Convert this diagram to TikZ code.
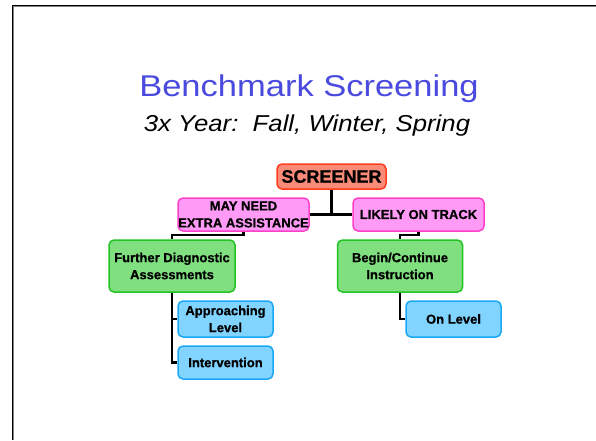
\documentclass[tikz,border=0pt]{standalone}
\usepackage{fontspec}
\setmainfont{Liberation Sans}
\newfontfamily\titlefont[FakeStretch=1.15]{Liberation Sans}
\newfontfamily\subtitlefont[FakeStretch=1.12]{Liberation Sans}
\newfontfamily\boxfont[FakeBold=0.8]{Liberation Sans Bold}
\usetikzlibrary{positioning}

\definecolor{titleblue}{RGB}{74,74,222}
\definecolor{scrfill}{RGB}{249,139,120}
\definecolor{scrdraw}{RGB}{255,60,30}
\definecolor{pinkfill}{RGB}{255,155,247}
\definecolor{pinkdraw}{RGB}{255,64,200}
\definecolor{greenfill}{RGB}{128,224,128}
\definecolor{greendraw}{RGB}{34,195,34}
\definecolor{bluefill}{RGB}{128,212,255}
\definecolor{bluedraw}{RGB}{26,168,245}

\tikzset{
  box/.style={rounded corners=5pt, line width=1.5pt, align=center,
    font=\boxfont\fontsize{13}{17}\selectfont, inner sep=0pt},
  scrbox/.style={box, fill=scrfill, draw=scrdraw,
    font=\boxfont\fontsize{18}{20}\selectfont},
  pinkbox/.style={box, fill=pinkfill, draw=pinkdraw},
  greenbox/.style={box, fill=greenfill, draw=greendraw},
  bluebox/.style={box, fill=bluefill, draw=bluedraw},
  link/.style={line width=2.5pt, black}
}

\begin{document}
\begin{tikzpicture}[x=1pt, y=-1pt]
  % page area
  \useasboundingbox (0,0) rectangle (596,440);
  \fill[white] (0,0) rectangle (596,440);
  % slide frame (top and left edges)
  \draw[gray, line width=1pt] (13,6.5) -- (596,6.5);
  \draw[gray, line width=1pt] (13.5,6) -- (13.5,440);
  \draw[black, line width=1pt] (12,5) -- (596,5);
  \draw[black, line width=1pt] (12,5) -- (12,440);

  % headings
  \node[anchor=base, text=titleblue, font=\titlefont\fontsize{30}{30}\selectfont]
    (title) at (309,96) {Benchmark Screening};
  \node[anchor=base, font=\subtitlefont\itshape\fontsize{23}{23}\selectfont]
    (subtitle) at (307,131) {3x Year:\ \ Fall, Winter, Spring};

  % boxes
  \node[scrbox, minimum width=109pt, minimum height=25pt] (scr) at (331.5,176.5) {SCREENER};
  \node[pinkbox, minimum width=131pt, minimum height=33pt] (may) at (243.5,214.5) {MAY NEED\\EXTRA ASSISTANCE};
  \node[pinkbox, minimum width=131pt, minimum height=33pt] (likely) at (418.5,214.5) {LIKELY ON TRACK};
  \node[greenbox, minimum width=126pt, minimum height=52pt] (fur) at (172,266) {Further Diagnostic\\Assessments};
  \node[greenbox, minimum width=125pt, minimum height=52pt] (beg) at (400,266) {Begin/Continue\\Instruction};
  \node[bluebox, minimum width=95pt, minimum height=36pt] (app) at (225.5,319) {Approaching\\Level};
  \node[bluebox, minimum width=95pt, minimum height=33pt] (int) at (225.5,362.5) {Intervention};
  \node[bluebox, minimum width=95pt, minimum height=36pt] (onl) at (453.5,319) {On Level};

  % connectors
  \draw[link] (scr.south) |- (may.east);
  \draw[link] (scr.south) |- (likely.west);
  \draw[link] (may.south) -- ++(0,3) -| (fur.north);
  \draw[link] (likely.south) -- ++(0,3) -| (beg.north);
  \draw[link] (fur.south) |- (app.west);
  \draw[link] (fur.south) |- (int.west);
  \draw[link] (beg.south) |- (onl.west);
\end{tikzpicture}
\end{document}
